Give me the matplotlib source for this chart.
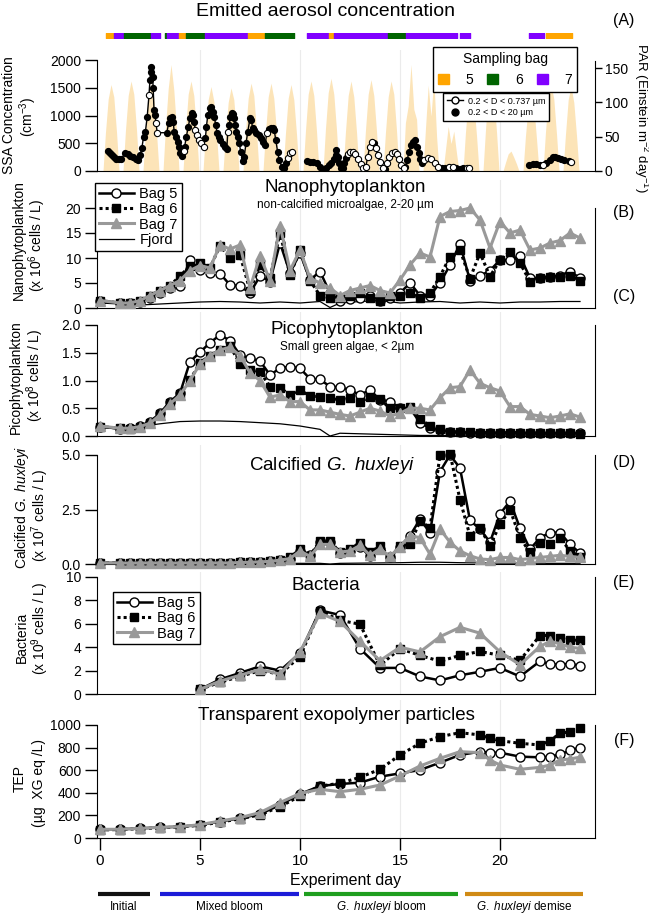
import numpy as np
import matplotlib.pyplot as plt
from matplotlib.lines import Line2D
from matplotlib.patches import Patch

plt.rcParams['font.family'] = ['Liberation Sans', 'DejaVu Sans']
plt.rcParams['mathtext.fontset'] = 'custom'
plt.rcParams['mathtext.rm'] = 'Liberation Sans'
plt.rcParams['mathtext.it'] = 'Liberation Sans:italic'

# ---------------- data ----------------
# sampling bag used for aerosol generation (start day, end day, bag)
bag_start = [0.30, 0.71, 1.20, 2.57, 3.25, 3.34, 3.96, 4.32, 5.27, 7.39, 8.25,
             10.34, 11.43, 11.70, 14.41, 15.30, 17.98, 21.46, 22.32]
bag_end = [0.71, 1.20, 2.57, 2.98, 3.34, 3.96, 4.32, 5.27, 7.39, 8.25, 9.71,
           11.43, 11.70, 14.41, 15.30, 17.86, 18.52, 22.21, 23.61]
bag_id = [5, 7, 6, 7, 6, 7, 5, 6, 7, 5, 6, 7, 5, 7, 6, 7, 7, 7, 5]

# PAR daily profiles (offset within the day, value per day)
par_offset = [0.15, 0.27, 0.41, 0.55, 0.69, 0.83, 0.95]
par_rows = [
    [0, 55, 105, 126, 108, 55, 0], [0, 58, 110, 131, 112, 58, 0],
    [0, 56, 108, 128, 106, 54, 0], [0, 62, 120, 155, 118, 60, 0],
    [0, 58, 112, 131, 110, 56, 0], [0, 54, 104, 123, 102, 52, 0],
    [0, 52, 100, 121, 104, 54, 0], [0, 56, 106, 128, 110, 56, 0],
    [0, 55, 108, 128, 106, 55, 0], [0, 54, 106, 126, 104, 52, 0],
    [0, 57, 112, 131, 110, 56, 0], [0, 60, 114, 135, 112, 58, 0],
    [0, 56, 110, 131, 108, 55, 0], [0, 58, 112, 133, 110, 56, 0],
    [0, 55, 108, 131, 112, 57, 0], [0, 70, 95, 155, 90, 75, 0],
    [0, 60, 125, 80, 135, 50, 0], [0, 30, 65, 40, 58, 25, 0],
    [0, 55, 105, 126, 100, 50, 0], [0, 58, 115, 135, 110, 55, 0],
    [0, 12, 25, 29, 20, 10, 0], [0, 50, 95, 115, 95, 45, 0],
    [0, 55, 108, 126, 105, 52, 0], [0, 52, 104, 123, 100, 50, 0],
]

# sea spray aerosol concentration (cm-3); nan = no measurement
ssa_day = [0.39, 0.5, 0.61, 0.71, 0.82, 0.96, 1.07, 1.25, 1.38, 1.5, 1.64, 1.79, 1.91, 2.0,
           2.09, 2.18, 2.27, 2.36, 2.45, 2.5, 2.54, 2.57, 2.63, 2.66, 2.7, 2.75, 2.8, 2.86,
           3.34, 3.43, 3.52, 3.61, 3.66, 3.71, 3.79, 3.88, 3.93, 4.0, 4.09, 4.18, 4.23,
           4.32, 4.41, 4.5, 4.59, 4.64, 4.7, 4.77, 4.86, 4.95, 5.04, 5.18, 5.27, 5.32, 5.39,
           5.48, 5.57, 5.66, 5.71, 5.79, 5.86, 5.93, 6.02, 6.14, 6.25, 6.34, 6.39, 6.46,
           6.52, 6.59, 6.64, 6.7, 6.75, 6.82, 6.89, 6.96, 7.04, 7.14, 7.21, 7.3, 7.39, 7.5,
           7.57, 7.63, 7.71, 7.82, 7.93, 8.04, 8.14, 8.25, 8.34, 8.43, 8.54, 8.64, 8.71,
           8.79, 8.88, 8.96, 9.09, 9.2, 9.29, 9.38, 9.5, 9.59,
           np.nan,
           10.34, 10.48, 10.66, 10.84, 11.02, 11.14, 11.29, 11.43, 11.55, 11.68, 11.79,
           11.82, 11.88, 11.95, 12.04, 12.14, 12.21, 12.32, 12.39, 12.5, 12.63, 12.75,
           12.89, 13.04, 13.16, 13.29, 13.39, 13.48, 13.61, 13.7, 13.79, 13.88, 14.0,
           14.14, 14.23, 14.36, 14.46, 14.59, 14.73, 14.86, 14.96, 15.07, 15.18, 15.27,
           15.36, 15.45, 15.54, 15.66, 15.75, 15.84, 15.93, 16.02, 16.11, 16.2, 16.38,
           16.55, 16.73, 16.91, 17.09, 17.27, 17.45, 17.63, 17.8, 17.98, 18.16, 18.34, 18.46,
           np.nan,
           21.46, 21.64, 21.82, 22.0, 22.14, 22.32, 22.5, 22.64, 22.77, 22.89, 23.04,
           23.21, 23.43, 23.57]
ssa_val = [366, 318, 282, 246, 210, 210, 222, 318, 306, 270, 246, 210, 198, 288,
           408, 618, 708, 978, 1368, 1638, 1878, 1788, 1698, 1488, 1098, 1008, 858, 690,
           690, 858, 948, 966, 888, 708, 618, 528, 438, 318, 270, 366, 438,
           618, 798, 948, 1038, 1008, 888, 738, 648, 558, 498, 438, 588, 798, 1008,
           1128, 1158, 1068, 978, 828, 678, 618, 558, 486, 438, 390, 708, 828,
           978, 1050, 1026, 948, 828, 708, 618, 498, 348, 186, 258, 498, 708, 948,
           918, 768, 738, 678, 648, 588, 528, 468, 678, 750, 768, 768, 738,
           558, 348, 198, 78, 48, 138, 228, 318, 348,
           np.nan,
           186, 168, 162, 138, 78, 18, 48, 108, 150, 210, 288,
           378, 258, 138, 48, 48, 138, 228, 306, 348, 348, 306,
           210, 126, 48, 78, 258, 438, 528, 498, 408, 288, 168,
           48, 30, 138, 258, 330, 348, 306, 210, 108, 48, 78,
           198, 348, 468, 528, 558, 438, 318, 210, 138, 198, 228,
           210, 138, 78, 48, 48, 66, 78, 48, 30, 48, 48, 48,
           np.nan,
           108, 126, 126, 108, 108, 150, 198, 246, 258, 234, 210,
           198, 186, 168]
# points measured only in the 0.2-0.737 um size range (open symbols)
ssa_fine_days = [2.45, 2.8, 2.86, 4.18, 4.77, 4.86, 4.95, 5.04, 5.18, 6.39, 8.34, 9.38, 9.5,
                 9.59, 12.39, 12.5, 12.63, 12.75, 12.89, 13.04, 13.16, 13.29, 13.39, 13.48,
                 13.61, 13.79, 13.88, 14.0, 14.14, 14.36, 14.46, 14.59, 14.73, 14.86, 14.96,
                 15.07, 15.18, 16.2, 16.38, 16.55, 16.73, 16.91, 17.45, 17.63, 18.34, 18.46,
                 22.14, 23.57]

# mesocosm sampling days (panels B-D)
days = [0, 1, 1.5, 2, 2.5, 3, 3.5, 4, 4.5, 5, 5.5, 6, 6.5, 7, 7.5, 8, 8.5, 9, 9.5, 10,
        10.5, 11, 11.5, 12, 12.5, 13, 13.5, 14, 14.5, 15, 15.5, 16, 16.5, 17, 17.5, 18,
        18.5, 19, 19.5, 20, 20.5, 21, 21.5, 22, 22.5, 23, 23.5, 24]
fjord_days = [0, 1, 2, 3, 4, 5, 6, 7, 8, 9, 10, 11, 11.5, 12, 13, 14, 15, 16, 17, 18, 19,
              20, 21, 22, 23, 24]

# (B) nanophytoplankton, x 10^6 cells / L
nano5 = [1.5, 1.0, 1.0, 1.2, 2.0, 3.0, 4.0, 4.4, 9.6, 7.6, 7.0, 6.9, 4.6, 4.4, 3.0, 6.4,
         5.3, 13.0, 7.0, 11.0, 5.6, 7.3, 3.0, 1.5, 1.8, 2.0, 2.5, 1.5, 2.0, 3.0, 5.0, 2.5,
         2.5, 5.0, 8.6, 12.8, 5.5, 6.4, 7.5, 9.6, 9.6, 10.4, 6.0, 6.0, 6.3, 6.5, 7.3, 6.0]
nano6 = [1.5, 1.0, 1.0, 1.5, 2.5, 3.5, 4.5, 6.4, 8.4, 9.1, 8.0, 12.5, 10.0, 10.6, 3.5, 8.6,
         6.0, 15.0, 6.6, 11.6, 5.5, 2.5, 2.0, 2.0, 2.5, 3.0, 2.0, 1.5, 2.5, 2.5, 3.0, 2.0,
         3.0, 6.3, 10.3, 11.6, 5.9, 11.0, 6.3, 9.6, 11.3, 9.0, 5.3, 6.0, 6.3, 6.3, 6.5, 5.5]
nano7 = [1.5, 1.0, 1.0, 1.5, 2.5, 3.5, 4.5, 5.5, 7.5, 8.5, 8.0, 12.6, 11.8, 12.6, 4.0, 10.4,
         5.5, 16.5, 7.5, 11.6, 6.0, 5.0, 4.0, 2.5, 3.5, 4.0, 4.5, 3.5, 3.0, 5.6, 8.6, 11.0,
         10.2, 18.3, 19.3, 19.5, 20.0, 17.6, 12.0, 17.3, 15.0, 15.6, 11.6, 12.0, 13.0, 13.5,
         15.0, 14.0]
nano_fjord = [1.0, 0.8, 0.6, 0.8, 1.0, 1.2, 1.3, 1.2, 1.0, 1.2, 1.0, 1.3, 0.1, 1.0, 1.3,
              1.5, 1.0, 1.2, 1.3, 1.0, 1.2, 1.0, 1.2, 1.2, 1.3, 1.3]

# (C) picophytoplankton, x 10^8 cells / L
pico5 = [0.17, 0.13, 0.14, 0.18, 0.26, 0.41, 0.62, 0.77, 1.34, 1.51, 1.68, 1.82, 1.72, 1.46,
         1.40, 1.35, 1.10, 1.22, 1.25, 1.22, 1.03, 1.02, 0.89, 0.88, 0.83, 0.74, 0.83, 0.65,
         0.62, 0.50, 0.50, 0.24, 0.14, 0.11, 0.08, 0.07, 0.06, 0.06, 0.06, 0.06, 0.06, 0.06,
         0.05, 0.05, 0.05, 0.05, 0.05, 0.05]
pico6 = [0.17, 0.14, 0.13, 0.17, 0.24, 0.40, 0.60, 0.75, 1.01, 1.32, 1.45, 1.55, 1.62, 1.30,
         1.19, 1.16, 0.89, 0.87, 0.74, 0.83, 0.72, 0.71, 0.68, 0.65, 0.68, 0.62, 0.70, 0.66,
         0.50, 0.50, 0.52, 0.31, 0.18, 0.13, 0.08, 0.07, 0.07, 0.06, 0.06, 0.06, 0.06, 0.06,
         0.06, 0.05, 0.05, 0.05, 0.05, 0.04]
pico7 = [0.18, 0.14, 0.14, 0.17, 0.23, 0.38, 0.58, 0.74, 1.00, 1.30, 1.45, 1.55, 1.60, 1.45,
         1.14, 1.00, 0.70, 0.74, 0.62, 0.62, 0.47, 0.47, 0.43, 0.39, 0.36, 0.43, 0.50, 0.45,
         0.36, 0.41, 0.50, 0.50, 0.47, 0.69, 0.87, 0.89, 1.19, 0.95, 0.87, 0.81, 0.53, 0.53,
         0.39, 0.36, 0.33, 0.36, 0.40, 0.34]
pico_fjord = [0.17, 0.15, 0.17, 0.22, 0.26, 0.27, 0.27, 0.26, 0.24, 0.22, 0.18, 0.12, 0.0,
              0.05, 0.04, 0.03, 0.02, 0.01, 0.01, 0.0, 0.0, 0.0, 0.0, 0.0, 0.0, 0.0]

# (D) calcified G. huxleyi, x 10^7 cells / L
ehux5 = [0.05, 0.05, 0.04, 0.05, 0.05, 0.05, 0.04, 0.05, 0.05, 0.05, 0.05, 0.05, 0.05, 0.07,
         0.08, 0.10, 0.12, 0.18, 0.25, 0.60, 0.40, 1.00, 1.00, 0.50, 0.60, 0.80, 0.35, 0.70,
         0.30, 0.80, 1.30, 2.05, 1.44, 4.24, 5.00, 4.40, 2.00, 1.60, 1.00, 2.30, 2.88, 1.64,
         0.68, 1.20, 1.44, 1.44, 0.90, 0.50]
ehux6 = [0.05, 0.05, 0.04, 0.05, 0.05, 0.05, 0.04, 0.05, 0.05, 0.05, 0.05, 0.05, 0.05, 0.07,
         0.08, 0.10, 0.12, 0.20, 0.30, 0.68, 0.38, 1.06, 1.06, 0.53, 0.70, 0.98, 0.53, 0.83,
         0.30, 0.83, 0.90, 1.97, 1.67, 5.00, 5.06, 2.95, 1.29, 1.67, 0.83, 1.82, 2.50, 1.21,
         0.53, 0.98, 0.90, 1.21, 0.60, 0.30]
ehux7 = [0.05, 0.05, 0.04, 0.05, 0.05, 0.05, 0.04, 0.05, 0.05, 0.05, 0.05, 0.05, 0.05, 0.07,
         0.08, 0.10, 0.12, 0.18, 0.25, 0.60, 0.35, 0.90, 0.90, 0.55, 0.60, 0.85, 0.40, 0.70,
         0.35, 0.80, 1.30, 1.21, 0.45, 1.60, 1.00, 0.60, 0.38, 0.23, 0.20, 0.30, 0.30, 0.20,
         0.25, 0.30, 0.35, 0.40, 0.35, 0.30]
ehux_fjord = [0.02, 0.02, 0.02, 0.02, 0.02, 0.02, 0.02, 0.02, 0.02, 0.03, 0.03, 0.03, 0.0,
              0.03, 0.04, 0.05, 0.06, 0.08, 0.08, 0.06, 0.05, 0.04, 0.04, 0.03, 0.03, 0.03]

# (E) bacteria, x 10^9 cells / L
bact_days = [5, 6, 7, 8, 9, 10, 11, 12, 13, 14, 15, 16, 17, 18, 19, 20, 21, 22, 22.5, 23,
             23.5, 24]
bact5 = [0.4, 1.25, 1.8, 2.37, 2.0, 3.5, 7.15, 6.75, 3.87, 2.23, 2.23, 1.5, 1.16, 1.6, 1.9,
         2.23, 1.5, 2.8, 2.55, 2.5, 2.6, 2.4]
bact6 = [0.4, 1.0, 1.5, 2.0, 1.7, 3.2, 7.1, 6.3, 5.96, 2.46, 3.87, 3.3, 2.8, 3.3, 3.64, 3.3,
         2.88, 5.0, 5.0, 4.77, 4.6, 4.6]
bact7 = [0.4, 1.1, 1.6, 2.1, 1.7, 3.6, 6.9, 6.2, 4.5, 2.85, 4.0, 3.6, 4.9, 5.7, 5.2, 3.6, 2.5,
         4.07, 4.5, 4.3, 4.0, 3.9]

# (F) TEP, ug XG eq / L
tep_days = [0, 1, 2, 3, 4, 5, 6, 7, 8, 9, 10, 11, 12, 13, 14, 15, 16, 17, 18, 19, 19.5, 20,
            21, 22, 22.5, 23, 23.5, 24]
tep5 = [77, 77, 85, 94, 100, 115, 145, 174, 212, 292, 389, 460, 478, 490, 543, 572, 602, 667,
        735, 764, 755, 755, 720, 714, 720, 740, 775, 800]
tep6 = [71, 75, 82, 90, 98, 112, 140, 170, 205, 277, 372, 460, 484, 537, 608, 735, 838, 897,
        932, 912, 882, 861, 838, 823, 861, 926, 940, 975]
tep7 = [77, 77, 85, 94, 100, 118, 150, 180, 225, 313, 395, 431, 410, 431, 469, 549, 637, 705,
        764, 755, 690, 646, 608, 625, 646, 690, 700, 715]

phase_names = ['Initial', 'Mixed bloom', r'$\it{G.\ huxleyi}$ bloom', r'$\it{G.\ huxleyi}$ demise']
phase_start = [-0.1, 3.0, 10.2, 18.25]
phase_end = [2.5, 9.95, 17.9, 24.15]

# ---------------- styles ----------------
bag_colors = {5: '#FFA500', 6: '#006400', 7: '#8000FF'}
phase_colors = ['#111111', '#1c1cd8', '#1e9e1e', '#d08a14']
S5 = dict(color='black', lw=1.8, ls='-', marker='o', mfc='white', mec='black',
          ms=6.5, mew=1.0, clip_on=False)
S6 = dict(color='black', lw=2.2, ls=(0, (1, 1)), marker='s', mfc='black', mec='black',
          ms=6, clip_on=False)
S7 = dict(color='#999999', lw=2.2, ls='-', marker='^', mfc='#999999', mec='#999999',
          ms=7, clip_on=False)
SF = dict(color='black', lw=0.9, clip_on=False)

W, H = 649.0, 914.0
XL, XR = 97, 595
XLIM = (-0.15, 24.75)
TICK = dict(direction='out', length=8.5, width=1, labelsize=10, pad=3)

fig = plt.figure(figsize=(W / 100, H / 100), dpi=100)


def ftext(x, y, s, **kw):
    kw.setdefault('ha', 'center')
    kw.setdefault('va', 'center')
    return fig.text(x / W, 1 - y / H, s, **kw)


def panel(top, bottom, ytop_val, ytop_px, yticks):
    ax = fig.add_axes([XL / W, 1 - bottom / H, (XR - XL) / W, (bottom - top) / H])
    ax.set_facecolor('none')
    ax.set_xlim(*XLIM)
    ax.set_ylim(0, ytop_val * (bottom - top) / (bottom - ytop_px))
    for d in (5, 10, 15, 20):
        ax.axvline(d, color='#ebebeb', lw=0.8, zorder=0)
    ax.spines['top'].set_visible(False)
    ax.spines['left'].set_bounds(0, yticks[-1])
    ax.spines['right'].set_bounds(0, yticks[-1])
    ax.set_yticks(yticks)
    ax.tick_params(axis='x', bottom=False, labelbottom=False)
    ax.tick_params(axis='y', **TICK)
    return ax


def bags(ax, t, v5, v6, v7):
    ax.plot(t, v5, zorder=5, **S5)
    ax.plot(t, v6, zorder=6, **S6)
    ax.plot(t, v7, zorder=7, **S7)


# ---------------- (A) aerosol ----------------
axA = panel(50, 171, 2000, 60, [0, 500, 1000, 1500, 2000])
axA.spines['right'].set_visible(False)
axP = axA.twinx()
axP.set_ylim(0, 150 * 121 / 103)
for s in ('top', 'left', 'bottom'):
    axP.spines[s].set_visible(False)
axP.spines['right'].set_bounds(0, 160)
axP.set_yticks([0, 50, 100, 150])
axP.tick_params(axis='y', direction='out', length=5, width=1, labelsize=10, pad=2)
par_t, par_v = [], []
for i, row in enumerate(par_rows):
    par_t += [i + o for o in par_offset]
    par_v += row
axP.fill_between(par_t, par_v, color='#FCE4B8', lw=0)
axA.set_zorder(axP.get_zorder() + 1)

ssa_day = np.array(ssa_day)
ssa_val = np.array(ssa_val)
fine = np.isin(ssa_day, ssa_fine_days)
axA.plot(ssa_day, ssa_val, color='black', lw=1.0, zorder=3)
axA.plot(ssa_day[~fine], ssa_val[~fine], ls='none', marker='o', ms=4.2, mfc='black',
         mec='black', zorder=4)
axA.plot(ssa_day[fine], ssa_val[fine], ls='none', marker='o', ms=4.5, mfc='white',
         mec='black', mew=0.8, zorder=5)

leg1 = axA.legend([Patch(color=bag_colors[b]) for b in (5, 6, 7)], ['5', '6', '7'],
                  title='Sampling bag', ncol=3, loc='upper left',
                  bbox_to_anchor=(433 / W, 1 - 47 / H), bbox_transform=fig.transFigure,
                  borderaxespad=0, fontsize=10, title_fontsize=10, frameon=True,
                  fancybox=False, edgecolor='black', framealpha=1, handlelength=0.8,
                  handleheight=0.8, handletextpad=1.2, columnspacing=1.0, borderpad=0.35)
leg1.get_frame().set_linewidth(1.0)
axA.add_artist(leg1)
leg2 = axA.legend([Line2D([], [], color='black', lw=1, marker='o', mfc='white', mec='black',
                          ms=5),
                   Line2D([], [], ls='none', marker='o', color='black', ms=5)],
                  ['0.2 < D < 0.737 µm', '0.2 < D < 20 µm'], loc='upper left',
                  bbox_to_anchor=(443 / W, 1 - 93 / H), bbox_transform=fig.transFigure,
                  borderaxespad=0, fontsize=6.5, frameon=True, fancybox=False,
                  edgecolor='black', framealpha=1, handlelength=1.8, handletextpad=0.6,
                  labelspacing=0.3, borderpad=0.4)
leg2.get_frame().set_linewidth(1.0)

axBag = fig.add_axes([XL / W, 1 - 38 / H, (XR - XL) / W, 5 / H])
axBag.set_xlim(*XLIM)
axBag.set_ylim(0, 1)
axBag.axis('off')
for s0, s1, b in zip(bag_start, bag_end, bag_id):
    axBag.broken_barh([(s0, s1 - s0)], (0, 1), color=bag_colors[b])

ftext(325, 11, 'Emitted aerosol concentration', fontsize=14)
ftext(9, 115, 'SSA Concentration', rotation=90, fontsize=10)
ftext(28, 117, '(cm$^{-3}$)', rotation=90, fontsize=10)
ftext(641, 118, 'PAR (Einstein m$^{-2}$ day$^{-1}$)', rotation=-90, fontsize=9.5)

# ---------------- (B) nanophytoplankton ----------------
axB = panel(180, 308, 20, 208, [0, 5, 10, 15, 20])
axB.plot(fjord_days, nano_fjord, zorder=4, **SF)
bags(axB, days, nano5, nano6, nano7)
legB = axB.legend([Line2D([], [], **S5), Line2D([], [], **S6), Line2D([], [], **S7),
                   Line2D([], [], **SF)], ['Bag 5', 'Bag 6', 'Bag 7', 'Fjord'],
                  loc='upper left', bbox_to_anchor=(95 / W, 1 - 183 / H),
                  bbox_transform=fig.transFigure, borderaxespad=0, fontsize=10.5,
                  frameon=True, fancybox=False, edgecolor='black', framealpha=1,
                  handlelength=2.4, handletextpad=0.4, labelspacing=0.1, borderpad=0.25)
legB.get_frame().set_linewidth(1.0)
legB.set_zorder(10)
ftext(345, 188, 'Nanophytoplankton', fontsize=13.5)
ftext(345, 205, 'non-calcified microalgae, 2-20 µm', fontsize=8.5)
ftext(19, 240, 'Nanophytoplankton', rotation=90, fontsize=10)
ftext(37, 245, '(x 10$^{6}$ cells / L)', rotation=90, fontsize=10)

# ---------------- (C) picophytoplankton ----------------
axC = panel(312, 436, 2.0, 325, [0, 0.5, 1.0, 1.5, 2.0])
axC.set_yticklabels(['0.0', '0.5', '1.0', '1.5', '2.0'])
axC.plot(fjord_days, pico_fjord, zorder=4, **SF)
bags(axC, days, pico5, pico6, pico7)
ftext(347, 330, 'Picophytoplankton', fontsize=13.5)
ftext(347, 347, 'Small green algae, < 2µm', fontsize=8.5)
ftext(16, 377, 'Picophytoplankton', rotation=90, fontsize=10)
ftext(35, 375, '(x 10$^{8}$ cells / L)', rotation=90, fontsize=10)

# ---------------- (D) calcified E. huxleyi ----------------
axD = panel(445, 564, 5.0, 455, [0, 2.5, 5.0])
axD.set_yticklabels(['0.0', '2.5', '5.0'])
axD.plot(fjord_days, ehux_fjord, zorder=4, **SF)
bags(axD, days, ehux5, ehux6, ehux7)
ftext(332, 465, r'Calcified $\it{G.\ huxleyi}$', fontsize=13.5)
ftext(22, 507, r'Calcified $\it{G.\ huxleyi}$', rotation=90, fontsize=10)
ftext(40, 515, '(x 10$^{7}$ cells / L)', rotation=90, fontsize=10)

# ---------------- (E) bacteria ----------------
axE = panel(572, 694, 10, 577, [0, 2, 4, 6, 8, 10])
bags(axE, bact_days, bact5, bact6, bact7)
legE = axE.legend([Line2D([], [], **S5), Line2D([], [], **S6), Line2D([], [], **S7)],
                  ['Bag 5', 'Bag 6', 'Bag 7'], loc='upper left',
                  bbox_to_anchor=(113 / W, 1 - 592 / H), bbox_transform=fig.transFigure,
                  borderaxespad=0, fontsize=10.5, frameon=True, fancybox=False,
                  edgecolor='black', framealpha=1, handlelength=2.4, handletextpad=0.4,
                  labelspacing=0.1, borderpad=0.25)
legE.get_frame().set_linewidth(1.0)
ftext(326, 585, 'Bacteria', fontsize=13.5)
ftext(22, 637, 'Bacteria', rotation=90, fontsize=10)
ftext(40, 628, '(x 10$^{9}$ cells / L)', rotation=90, fontsize=10)

# ---------------- (F) TEP ----------------
axF = panel(700, 838, 1000, 725, [0, 200, 400, 600, 800, 1000])
bags(axF, tep_days, tep5, tep6, tep7)
axF.set_xticks([0, 5, 10, 15, 20])
axF.tick_params(axis='x', bottom=True, labelbottom=True, direction='out', length=8.5,
                width=1, labelsize=11, pad=3)
ftext(336, 715, 'Transparent exopolymer particles', fontsize=13.5)
ftext(20, 778, 'TEP', rotation=90, fontsize=10)
ftext(39, 783, '(µg  XG eq /L)', rotation=90, fontsize=10)
ftext(346, 881, 'Experiment day', fontsize=11.5)

# panel letters
for lab, y in zip(['(A)', '(B)', '(C)', '(D)', '(E)', '(F)'], [20, 213, 297, 462, 582, 741]):
    ftext(624, y, lab, fontsize=11.5)

# ---------------- bloom phases ----------------
axPh = fig.add_axes([XL / W, 0, (XR - XL) / W, 30 / H])
axPh.set_xlim(*XLIM)
axPh.set_ylim(0, 30)
axPh.axis('off')
for s0, s1, c, name in zip(phase_start, phase_end, phase_colors, phase_names):
    axPh.plot([s0, s1], [20, 20], color=c, lw=3, solid_capstyle='butt', clip_on=False)
    axPh.text((s0 + s1) / 2, 7, name, ha='center', va='center', fontsize=8.5)

fig.savefig('out.png', dpi=100)
